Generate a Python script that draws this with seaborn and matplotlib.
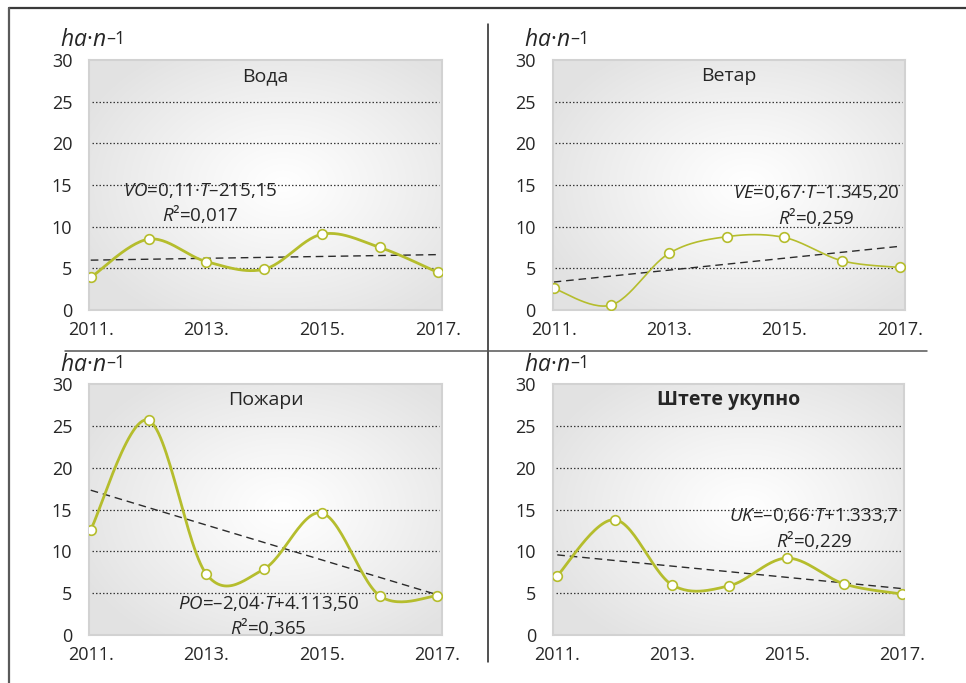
import numpy as np
import pandas as pd
import matplotlib
matplotlib.use("Agg")
import matplotlib.pyplot as plt
from matplotlib.lines import Line2D
import seaborn as sns

# ---------------- data ----------------
years = [2011, 2012, 2013, 2014, 2015, 2016, 2017]
voda = [3.9, 8.5, 5.8, 4.9, 9.1, 7.5, 4.5]
vetar = [2.6, 0.6, 6.8, 8.8, 8.7, 5.9, 5.1]
pozari = [12.6, 25.7, 7.3, 7.9, 14.6, 4.7, 4.7]
ukupno = [7.1, 13.8, 6.0, 5.9, 9.2, 6.1, 4.9]

titles = ["Вода", "Ветар", "Пожари", "Штете укупно"]
eq_lines = [
    ["$VO$=0,11·$T$–215,15", "$R$²=0,017"],
    ["$VE$=0,67·$T$–1.345,20", "$R$²=0,259"],
    ["$PO$=–2,04·$T$+4.113,50", "$R$²=0,365"],
    ["$UK$=–0,66·$T$+1.333,7", "$R$²=0,229"],
]
eq_pos = [(2012.89, 14.3, 11.5), (2015.56, 14.1, 11.2),
          (2014.08, 3.8, 0.9), (2015.47, 14.25, 11.4)]
yticks = [0, 5, 10, 15, 20, 25, 30]
xticks = [2011, 2013, 2015, 2017]
xticklabels = ["2011.", "2013.", "2015.", "2017."]

# ---------------- style ----------------
sns.set_style("white")
plt.rcParams["font.family"] = ["Open Sans", "DejaVu Sans"]
plt.rcParams["mathtext.fontset"] = "custom"
plt.rcParams["mathtext.it"] = "Open Sans:italic"
plt.rcParams["mathtext.rm"] = "Open Sans"
plt.rcParams["mathtext.bf"] = "Open Sans:bold"

LINE = "#b5bd2d"
TXT = "#262626"
W, H = 966, 683

fig = plt.figure(figsize=(W / 100, H / 100), dpi=100)
fig.patch.set_facecolor("white")

# axes rectangles in pixels: left, top, right, bottom
rects = [(89, 60, 442, 310), (552.5, 60, 905, 310),
         (89, 384.3, 442, 635), (552.7, 384.3, 904, 635)]
xlims = [(2010.97, 2017.07), (2010.98, 2017.09),
         (2010.97, 2017.08), (2010.92, 2017.04)]
series = [voda, vetar, pozari, ukupno]
lws = [2.0, 1.2, 2.0, 2.0]

# radial gradient background
gy, gx = np.mgrid[0:1:200j, 0:1:200j]
rr = np.sqrt(((gx - 0.55) / 0.62) ** 2 + ((gy - 0.5) / 0.62) ** 2)
t = np.clip(rr, 0, 1) ** 1.1
c0 = np.array([1.0, 1.0, 1.0])
c1 = np.array([0.89, 0.89, 0.89])
grad = c0[None, None, :] * (1 - t[..., None]) + c1[None, None, :] * t[..., None]


def smooth(xs, ys, n=30):
    P = np.column_stack([xs, ys]).astype(float)
    m = len(P)
    out = []
    for i in range(m - 1):
        p0 = P[i - 1] if i > 0 else P[i]
        p1 = P[i]
        p2 = P[i + 1]
        p3 = P[i + 2] if i + 2 < m else P[i + 1]
        c1_ = p1 + (p2 - p0) / 6.0
        c2_ = p2 - (p3 - p1) / 6.0
        tt = np.linspace(0, 1, n)[:, None]
        seg = ((1 - tt) ** 3) * p1 + 3 * ((1 - tt) ** 2) * tt * c1_ + \
            3 * (1 - tt) * tt ** 2 * c2_ + tt ** 3 * p2
        out.append(seg if i == 0 else seg[1:])
    out = np.vstack(out)
    return out[:, 0], out[:, 1]


for k in range(4):
    l, tp, r, b = rects[k]
    ax = fig.add_axes([l / W, 1 - b / H, (r - l) / W, (b - tp) / H])
    ax.imshow(grad, extent=(0, 1, 0, 1), transform=ax.transAxes,
              aspect="auto", zorder=0, interpolation="bilinear", origin="lower")
    df = pd.DataFrame({"year": years, "value": series[k]})

    for g in [5, 10, 15, 20, 25]:
        ax.axhline(g, xmin=0.008, xmax=0.992, color="#383838", lw=0.9,
                   ls=(0, (1.2, 1.6)), zorder=1)

    sx, sy = smooth(df["year"].values, df["value"].values)
    sdf = pd.DataFrame({"x": sx, "y": sy})
    sns.lineplot(data=sdf, x="x", y="y", sort=False, estimator=None,
                 color=LINE, lw=lws[k], ax=ax, zorder=3)
    sns.regplot(data=df, x="year", y="value", scatter=False, ci=None,
                truncate=True, ax=ax,
                line_kws=dict(color="#2b2b2b", lw=1.0, ls=(0, (5.5, 3.5)), zorder=2))
    sns.scatterplot(data=df, x="year", y="value", ax=ax, s=48,
                    facecolor="white", edgecolor=LINE, linewidth=1.2, zorder=4)

    ax.set_xlim(*xlims[k])
    ax.set_ylim(0, 30)
    ax.set_xticks(xticks)
    ax.set_xticklabels(xticklabels)
    ax.set_yticks(yticks)
    ax.tick_params(axis="both", length=0, labelsize=13, colors=TXT)
    ax.tick_params(axis="y", pad=12)
    ax.tick_params(axis="x", pad=8)
    ax.set_xlabel("")
    ax.set_ylabel("")
    for s in ax.spines.values():
        s.set_visible(True)
        s.set_color("#d2d2d2")
        s.set_linewidth(1.5)

    ax.text(0.5, 28.1, titles[k], transform=ax.get_yaxis_transform(),
            ha="center", va="center", fontsize=14, color=TXT,
            fontweight="bold" if k == 3 else "normal", zorder=5)

    ex, ey1, ey2 = eq_pos[k]
    ax.text(ex, ey1, eq_lines[k][0], ha="center", va="center",
            fontsize=13.5, color=TXT, zorder=5)
    ax.text(ex, ey2, eq_lines[k][1], ha="center", va="center",
            fontsize=13.5, color=TXT, zorder=5)

    # unit label
    ux = (l - 29) / W
    uy = 1 - (tp - 13.5) / H
    t1 = fig.text(ux, uy, "$ha$·$n$", fontsize=16.5, color=TXT, va="baseline")
    ax.annotate("–1", xy=(1, 0), xycoords=t1, xytext=(0.3, 3.5),
                textcoords="offset points", fontsize=13, color=TXT,
                va="bottom", ha="left", annotation_clip=False)

# frame and divider lines
def fline(x0, y0, x1, y1, lw, c):
    fig.add_artist(Line2D([x0 / W, x1 / W], [1 - y0 / H, 1 - y1 / H],
                          lw=lw, color=c, transform=fig.transFigure))

fline(9, 7.5, W, 7.5, 1.6, "#3a3a3a")
fline(9, 7.5, 9, H, 1.6, "#5a5a5a")
fline(487.5, 24, 487.5, 662, 1.1, "#222222")
fline(65, 350.5, 927, 350.5, 1.1, "#555555")

fig.savefig("out.png", dpi=100, facecolor="white")
